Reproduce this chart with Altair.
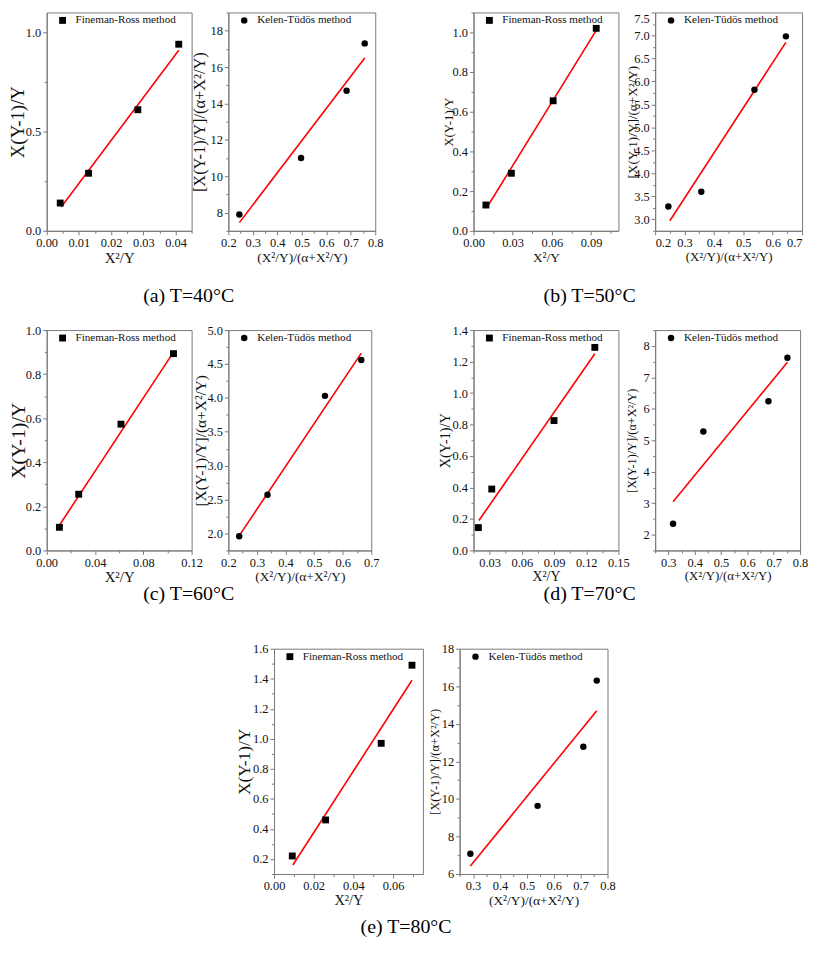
import altair as alt
import pandas as pd

FONT = "Liberation Serif"

# ---------------- data ----------------
# (a) T=40 C
a_fr_x = [0.0042, 0.0130, 0.0283, 0.0410]
a_fr_y = [0.14, 0.29, 0.61, 0.94]
a_fr_fit_x = [0.0045, 0.0410]
a_fr_fit_y = [0.12, 0.91]
a_kt_x = [0.245, 0.497, 0.683, 0.757]
a_kt_y = [7.9, 11.0, 14.7, 17.3]
a_kt_fit_x = [0.245, 0.757]
a_kt_fit_y = [7.45, 16.5]

# (b) T=50 C
b_fr_x = [0.0095, 0.029, 0.061, 0.094]
b_fr_y = [0.13, 0.29, 0.655, 1.02]
b_fr_fit_x = [0.010, 0.094]
b_fr_fit_y = [0.115, 1.01]
b_kt_x = [0.245, 0.357, 0.538, 0.645]
b_kt_y = [3.28, 3.60, 5.82, 6.98]
b_kt_fit_x = [0.25, 0.645]
b_kt_fit_y = [2.97, 6.85]

# (c) T=60 C
c_fr_x = [0.0105, 0.0265, 0.0615, 0.105]
c_fr_y = [0.105, 0.255, 0.573, 0.893]
c_fr_fit_x = [0.010, 0.105]
c_fr_fit_y = [0.11, 0.90]
c_kt_x = [0.238, 0.337, 0.538, 0.665]
c_kt_y = [1.96, 2.57, 4.03, 4.56]
c_kt_fit_x = [0.24, 0.665]
c_kt_fit_y = [1.98, 4.66]

# (d) T=70 C
d_fr_x = [0.0195, 0.032, 0.090, 0.128]
d_fr_y = [0.145, 0.39, 0.825, 1.29]
d_fr_fit_x = [0.020, 0.128]
d_fr_fit_y = [0.19, 1.25]
d_kt_x = [0.318, 0.433, 0.680, 0.752]
d_kt_y = [2.35, 5.28, 6.24, 7.62]
d_kt_fit_x = [0.318, 0.752]
d_kt_fit_y = [3.05, 7.48]

# (e) T=80 C
e_fr_x = [0.0092, 0.026, 0.054, 0.0695]
e_fr_y = [0.22, 0.46, 0.97, 1.49]
e_fr_fit_x = [0.0095, 0.0695]
e_fr_fit_y = [0.16, 1.39]
e_kt_x = [0.290, 0.540, 0.710, 0.760]
e_kt_y = [7.08, 9.63, 12.78, 16.30]
e_kt_fit_x = [0.29, 0.76]
e_kt_fit_y = [6.42, 14.7]

captions = ["(a) T=40°C", "(b) T=50°C", "(c) T=60°C", "(d) T=70°C", "(e) T=80°C"]

FR_LABEL = "Fineman-Ross method"
KT_LABEL = "Kelen-Tüdös method"
FR_XT = "X²/Y"
FR_YT = "X(Y-1)/Y"
KT_XT = "(X²/Y)/(α+X²/Y)"
KT_YT = "[X(Y-1)/Y]/(α+X²/Y)"

AX_COLOR = "#7a7a7a"


def mids(vals, dom):
    step = vals[1] - vals[0]
    out = []
    v = vals[0] - step / 2
    while v <= dom[1] + 1e-9:
        if v >= dom[0] - 1e-9:
            out.append(round(v, 6))
        v += step
    return out


def panel(px, py, fx, fy, label, shape, xdom, ydom, xt, yt, xfmt, yfmt,
          xtitle, ytitle, w, h, ytx, ytfs, xtfs, caption=None, cap_x=0, cap_y=0,
          yflush=False, xflush=False):
    pts = pd.DataFrame({"x": px, "y": py})
    fit = pd.DataFrame({"x": fx, "y": fy})
    xs = alt.Scale(domain=xdom, nice=False, zero=False)
    ys = alt.Scale(domain=ydom, nice=False, zero=False)
    common = dict(labelFont=FONT, labelFontSize=12.5, labelColor="#111",
                  titleFont=FONT, titleFontWeight="normal",
                  titleColor="#111", domainColor=AX_COLOR, tickColor=AX_COLOR,
                  grid=False, tickSize=4, labelPadding=2, labelOverlap=False)
    xaxis = alt.Axis(values=xt, format=xfmt, title=xtitle, titlePadding=1,
                     titleFontSize=xtfs, labelFlush=xflush, **common)
    yaxis = alt.Axis(values=yt, format=yfmt, title=ytitle, titleX=ytx,
                     titleY=h / 2, titleAngle=270, titleBaseline="middle",
                     titleAlign="center", titleFontSize=ytfs,
                     labelFlush=yflush, **common)
    line = alt.Chart(fit).mark_line(color="#ff0000", strokeWidth=1.6).encode(
        x=alt.X("x:Q", scale=xs, axis=xaxis),
        y=alt.Y("y:Q", scale=ys, axis=yaxis),
    )
    minor_common = dict(labels=False, domain=False, title=None, grid=False,
                        tickColor=AX_COLOR, tickSize=2.5)
    minor = alt.Chart(pts).mark_point(opacity=0).encode(
        x=alt.X("x:Q", scale=xs, axis=alt.Axis(values=mids(xt, xdom), orient="bottom", **minor_common)),
        y=alt.Y("y:Q", scale=ys, axis=alt.Axis(values=mids(yt, ydom), orient="left", **minor_common)),
    )
    msize = 48 if shape == "square" else 42
    points = alt.Chart(pts).mark_point(filled=True, opacity=1, color="black",
                                        shape=shape, size=msize).encode(
        x=alt.X("x:Q", scale=xs, axis=None),
        y=alt.Y("y:Q", scale=ys, axis=None),
    )
    leg = pd.DataFrame({"t": [label]})
    leg_sym = alt.Chart(leg).mark_point(filled=True, opacity=1, color="black",
                                         shape=shape, size=msize).encode(
        x=alt.value(16), y=alt.value(8))
    leg_txt = alt.Chart(leg).mark_text(font=FONT, fontSize=11.2, align="left",
                                        baseline="middle", color="#111").encode(
        text="t:N", x=alt.value(29), y=alt.value(8))
    layers = [line, minor, points, leg_sym, leg_txt]
    if caption is not None:
        cap = alt.Chart(pd.DataFrame({"t": [caption]})).mark_text(
            font=FONT, fontSize=20, align="center", baseline="middle", color="black"
        ).encode(text="t:N", x=alt.value(cap_x), y=alt.value(cap_y))
        layers.append(cap)
    return alt.layer(*layers).resolve_axis(x="independent", y="independent").properties(
        width=w, height=h)


def spacer(w, h):
    return alt.Chart(pd.DataFrame({"v": [0]})).mark_point(opacity=0).encode(
        x=alt.X("v:Q", axis=None), y=alt.Y("v:Q", axis=None)
    ).properties(width=w, height=h, view=alt.ViewBackground(strokeOpacity=0))


f2 = [0, 0.01, 0.02, 0.03, 0.04]
kt_x1 = [0.2, 0.3, 0.4, 0.5, 0.6, 0.7, 0.8]
kt_x2 = [0.2, 0.3, 0.4, 0.5, 0.6, 0.7]
kt_x3 = [0.3, 0.4, 0.5, 0.6, 0.7, 0.8]

H1, H2, H3 = 220, 222, 227

p_a_fr = panel(a_fr_x, a_fr_y, a_fr_fit_x, a_fr_fit_y, FR_LABEL, "square",
               [0, 0.045], [0, 1.1], f2, [0, 0.5, 1.0], ".2f", ".1f",
               FR_XT, FR_YT, 146, H1, -29, 19, 15, captions[0], 143, 286)
p_a_kt = panel(a_kt_x, a_kt_y, a_kt_fit_x, a_kt_fit_y, KT_LABEL, "circle",
               [0.2, 0.8], [7, 19], kt_x1, [8, 10, 12, 14, 16, 18], ".1f", "d",
               KT_XT, KT_YT, 148, H1, -29, 16.5, 13.5)
p_b_fr = panel(b_fr_x, b_fr_y, b_fr_fit_x, b_fr_fit_y, FR_LABEL, "square",
               [0, 0.111], [0, 1.1], [0, 0.03, 0.06, 0.09], [0, 0.2, 0.4, 0.6, 0.8, 1.0],
               ".2f", ".1f", FR_XT, FR_YT, 146, H1, -25, 13, 13.5, captions[1], 117, 286)
p_b_kt = panel(b_kt_x, b_kt_y, b_kt_fit_x, b_kt_fit_y, KT_LABEL, "circle",
               [0.2, 0.7], [2.75, 7.5], kt_x2,
               [3.0, 3.5, 4.0, 4.5, 5.0, 5.5, 6.0, 6.5, 7.0, 7.5], ".1f", ".1f",
               KT_XT, KT_YT, 148, H1, -23, 13.3, 13, yflush=True, xflush=True)

p_c_fr = panel(c_fr_x, c_fr_y, c_fr_fit_x, c_fr_fit_y, FR_LABEL, "square",
               [0, 0.12], [0, 1.0], [0, 0.04, 0.08, 0.12], [0, 0.2, 0.4, 0.6, 0.8, 1.0],
               ".2f", ".1f", FR_XT, FR_YT, 146, H2, -28, 20, 15, captions[2], 143, 266)
p_c_kt = panel(c_kt_x, c_kt_y, c_kt_fit_x, c_kt_fit_y, KT_LABEL, "circle",
               [0.2, 0.7], [1.75, 5.0], kt_x2,
               [2.0, 2.5, 3.0, 3.5, 4.0, 4.5, 5.0], ".1f", ".1f",
               KT_XT, KT_YT, 144, H2, -28, 15.5, 13.5)
p_d_fr = panel(d_fr_x, d_fr_y, d_fr_fit_x, d_fr_fit_y, FR_LABEL, "square",
               [0.015, 0.15], [0, 1.4], [0.03, 0.06, 0.09, 0.12, 0.15],
               [0, 0.2, 0.4, 0.6, 0.8, 1.0, 1.2, 1.4], ".2f", ".1f",
               FR_XT, FR_YT, 146, H2, -28, 14.5, 14, captions[3], 117, 266)
p_d_kt = panel(d_kt_x, d_kt_y, d_kt_fit_x, d_kt_fit_y, KT_LABEL, "circle",
               [0.25, 0.8], [1.5, 8.5], kt_x3, [2, 3, 4, 5, 6, 7, 8], ".1f", "d",
               KT_XT, KT_YT, 146, H2, -24, 12.3, 13)

p_e_fr = panel(e_fr_x, e_fr_y, e_fr_fit_x, e_fr_fit_y, FR_LABEL, "square",
               [0, 0.075], [0.1, 1.6], [0, 0.02, 0.04, 0.06],
               [0.2, 0.4, 0.6, 0.8, 1.0, 1.2, 1.4, 1.6], ".2f", ".1f",
               FR_XT, FR_YT, 150, H3, -30, 17.5, 14.5, captions[4], 133, 280)
p_e_kt = panel(e_kt_x, e_kt_y, e_kt_fit_x, e_kt_fit_y, KT_LABEL, "circle",
               [0.25, 0.8], [6, 18], kt_x3, [6, 8, 10, 12, 14, 16, 18], ".1f", "d",
               KT_XT, KT_YT, 149, H3, -25, 12.5, 13.5)

SP = 37
row1 = alt.hconcat(p_a_fr, p_a_kt, spacer(25, H1), p_b_fr, p_b_kt,
                   spacing=SP, bounds="flush")
row2 = alt.hconcat(p_c_fr, p_c_kt, spacer(29, H2), p_d_fr, p_d_kt,
                   spacing=SP, bounds="flush")
row3 = alt.hconcat(spacer(192, H3), p_e_fr, p_e_kt, spacing=SP, bounds="flush")

chart = alt.vconcat(
    alt.vconcat(row1, row2, spacing=16),
    row3, spacing=37,
).properties(padding=0, background="white").configure_view(
    stroke=AX_COLOR, strokeWidth=1)

chart.save("out.html", embed_options={"renderer": "svg", "actions": False})
